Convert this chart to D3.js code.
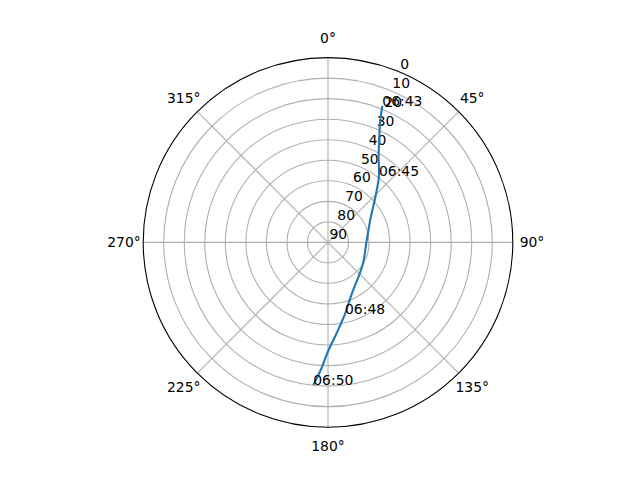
<!DOCTYPE html>
<html>
<head>
<meta charset="utf-8">
<script src="https://cdn.jsdelivr.net/npm/d3@7"></script>
<style>
  body { margin: 0; background: #fff; }
  text { font-family: "DejaVu Sans", sans-serif; font-size: 13.9px; fill: #000; }
</style>
</head>
<body>
<svg id="chart" width="640" height="480"></svg>
<script>
// pass samples, every 30 s
const times = ["06:43:00", "06:43:30", "06:44:00", "06:44:30", "06:45:00", "06:45:30",
  "06:46:00", "06:46:30", "06:47:00", "06:47:30", "06:48:00", "06:48:30",
  "06:49:00", "06:49:30", "06:50:00"];
const azimuth = [21.7, 23.5, 26.6, 30.5, 37.5, 45, 60, 88, 122, 155, 166.6, 175, 180.2, 183, 185.9];
const elevation = [18.4, 26.5, 34.2, 41.5, 49.2, 57, 66, 71.2, 70, 62.5, 54.2, 45, 36.5, 28.5, 20.2];
const labelTimes = ["06:43:00", "06:45:00", "06:48:00", "06:50:00"];

const thetaTicks = [0, 45, 90, 135, 180, 225, 270, 315];
const rTicks = [0, 10, 20, 30, 40, 50, 60, 70, 80, 90];

const width = 640;
const height = 480;
const cx = 328;
const cy = 242.4;
const R = 184.8;
const rad = (deg) => (deg * Math.PI) / 180;

const svg = d3.select("#chart");
const g = svg.append("g").attr("transform", `translate(${cx},${cy})`);

const r = d3.scaleLinear().domain([90, 0]).range([0, R]);

const data = times.map((t, i) => ({ t, az: azimuth[i], el: elevation[i] }));

// radial grid circles
g.selectAll("circle.grid")
  .data(rTicks.filter((v) => v !== 0 && v !== 90))
  .join("circle")
  .attr("class", "grid")
  .attr("r", (d) => r(d))
  .attr("fill", "none")
  .attr("stroke", "#b0b0b0")
  .attr("stroke-width", 1.1);

// angular grid lines
g.selectAll("line.grid")
  .data(thetaTicks)
  .join("line")
  .attr("class", "grid")
  .attr("x1", 0)
  .attr("y1", 0)
  .attr("x2", (d) => R * Math.sin(rad(d)))
  .attr("y2", (d) => -R * Math.cos(rad(d)))
  .attr("stroke", "#b0b0b0")
  .attr("stroke-width", 1.1);

// outer spine
g.append("circle")
  .attr("r", R)
  .attr("fill", "none")
  .attr("stroke", "#000")
  .attr("stroke-width", 1.1);

// theta labels
g.selectAll("text.theta")
  .data(thetaTicks)
  .join("text")
  .attr("class", "theta")
  .attr("x", (d) => 204 * Math.sin(rad(d)))
  .attr("y", (d) => -204 * Math.cos(rad(d)))
  .attr("text-anchor", "middle")
  .attr("dominant-baseline", "central")
  .text((d) => `${d}°`);

// radial labels at 22.5°
const rAngle = rad(22.5);
g.selectAll("text.rlabel")
  .data(rTicks)
  .join("text")
  .attr("class", "rlabel")
  .attr("x", (d) => r(d) * Math.sin(rAngle) + 1.5)
  .attr("y", (d) => -r(d) * Math.cos(rAngle) - 3)
  .text((d) => d);

// pass track
const line = d3
  .lineRadial()
  .angle((d) => rad(d.az))
  .radius((d) => r(d.el))
  .curve(d3.curveCatmullRom);

g.append("path")
  .datum(data)
  .attr("d", line)
  .attr("fill", "none")
  .attr("stroke", "#1f77b4")
  .attr("stroke-width", 2.1);

// time annotations
g.selectAll("text.time")
  .data(data.filter((d) => labelTimes.includes(d.t)))
  .join("text")
  .attr("class", "time")
  .attr("x", (d) => r(d.el) * Math.sin(rad(d.az)))
  .attr("y", (d) => -r(d.el) * Math.cos(rad(d.az)))
  .text((d) => d.t.slice(0, 5));
</script>
</body>
</html>
